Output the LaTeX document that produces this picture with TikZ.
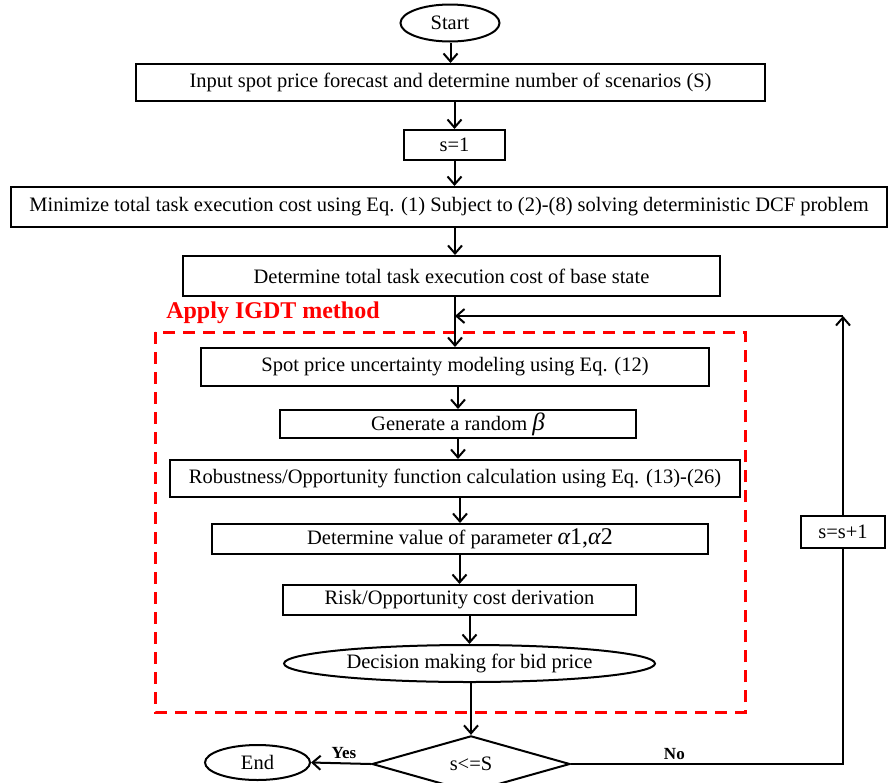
\documentclass[tikz,border=0pt]{standalone}
\usepackage{fontspec}
\setmainfont{Liberation Serif}
\usetikzlibrary{arrows.meta,shapes.geometric}
\begin{document}
\begin{tikzpicture}[x=1pt,y=-1pt,
  lbl/.style={font=\fontsize{20.5}{22}\selectfont},
  box/.style={draw,line width=2pt,inner sep=0pt,lbl},
  oval/.style={draw,ellipse,line width=2pt,inner sep=0pt,lbl},
  arr/.style={line width=2pt,-{Straight Barb[length=8pt,width=14pt,line width=2pt]}},
  ln/.style={line width=2pt},
  yn/.style={font=\bfseries\fontsize{17}{19}\selectfont}]
\useasboundingbox (0,0) rectangle (891,782);
\clip (0,0) rectangle (891,782);

\node[oval,minimum width=99pt,minimum height=37pt] (start) at (450,23) {Start};
\node[box,minimum width=629pt,minimum height=37pt] (input) at (450.5,82.5) {Input spot price forecast and determine number of scenarios (S)};
\node[box,minimum width=101pt,minimum height=30pt] (s1) at (454.5,145) {s=1};
\node[box,minimum width=876pt,minimum height=40pt] (minim) at (449,207) {Minimize total task execution cost using Eq. (1) Subject to (2)-(8) solving deterministic DCF problem};
\node[box,minimum width=537pt,minimum height=40pt] (base) at (451.5,276) {Determine total task execution cost of base state};

\node[font=\bfseries\fontsize{24}{26}\selectfont,text=red] (igdt) at (273,313) {Apply IGDT method};
\draw[red,line width=3pt,dash pattern=on 12pt off 8pt] (155,332) rectangle (745,712);

\node[box,minimum width=508pt,minimum height=38pt] (spot) at (455,367) {Spot price uncertainty modeling using Eq. (12)};
\node[box,minimum width=356pt,minimum height=28pt] (gen) at (458,424) {Generate a random {\fontsize{25}{25}\selectfont\itshape β}};
\node[box,minimum width=570pt,minimum height=37pt] (rob) at (455,478.5) {Robustness/Opportunity function calculation using Eq. (13)-(26)};
\node[box,minimum width=496pt,minimum height=30pt] (alpha) at (460,539) {Determine value of parameter {\fontsize{24}{24}\selectfont{\itshape α}1,{\itshape α}2}};
\node[box,minimum width=353pt,minimum height=30pt] (risk) at (459.5,600) {Risk/Opportunity cost derivation\hspace{28pt}};
\node[oval,minimum width=371pt,minimum height=37pt] (dec) at (469.5,663.5) {Decision making for bid price};

\node[draw,diamond,line width=2pt,inner sep=0pt,minimum width=198pt,minimum height=56pt,lbl] (dia) at (471,764) {s<=S};
\node[oval,minimum width=105pt,minimum height=35pt] (end) at (257.5,762.5) {End};
\node[box,minimum width=84pt,minimum height=32pt] (inc) at (843,532) {s=s+1};

\coordinate (corner) at (843,316);
\coordinate (join) at (spot.north |- corner);

\draw[arr] (start.south -| input.north) -- (input.north);
\draw[arr] (input.south -| s1.north) -- (s1.north);
\draw[arr] (s1.south) -- (s1.south |- minim.north);
\draw[arr] (minim.south -| spot.north) -- (spot.north |- base.north);
\draw[arr] (base.south -| spot.north) -- (spot.north);
\draw[arr] (spot.south -| gen.north) -- (gen.north);
\draw[arr] (gen.south) -- (gen.south |- rob.north);
\draw[arr] (rob.south -| alpha.north) -- (alpha.north);
\draw[arr] (alpha.south -| risk.north) -- (risk.north);
\draw[arr] (risk.south -| dec.north) -- (dec.north);
\draw[arr] (dec.south -| dia.north) -- (dia.north);
\draw[arr] (dia.west) -- node[yn,above,pos=0.45] {Yes} (end.east);
\draw[ln] (dia.east) -- node[yn,above,pos=0.38] {No} (dia.east -| inc.south) -- (inc.south);
\draw[arr] (inc.north) -- (corner);
\draw[arr] (corner) -- (join);
\end{tikzpicture}
\end{document}
